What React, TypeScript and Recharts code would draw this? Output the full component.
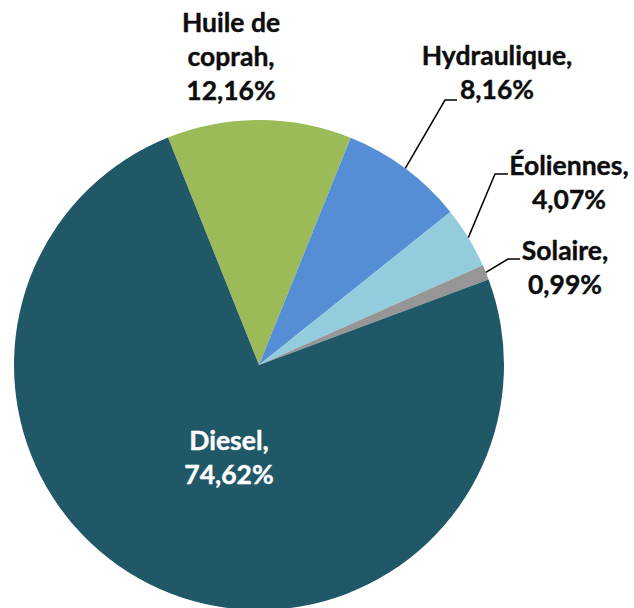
import { PieChart, Pie, Cell } from 'recharts'

const categories = ['Huile de coprah', 'Hydraulique', 'Éoliennes', 'Solaire', 'Diesel']
const shares = [12.16, 8.16, 4.07, 0.99, 74.62]
const colors = ['#9BBB59', '#558ED5', '#93CDDD', '#969696', '#215868']

// label text lines per slice (the name is split where the original wraps it)
const labelLines = [
  ['Huile de', 'coprah,'],
  ['Hydraulique,'],
  ['Éoliennes,'],
  ['Solaire,'],
  ['Diesel,'],
]

// label placement relative to pie centre: text centre x, first baseline y, optional elbow of leader line
const labelLayout = [
  { tx: -28, ty: -333, elbow: null },
  { tx: 238, ty: -300, elbow: [186, -265, 12] },
  { tx: 310, ty: -190, elbow: [236, -191, 13] },
  { tx: 306, ty: -105, elbow: [249, -106, 12] },
  { tx: -30, ty: 85, elbow: null },
]

const data = categories.map((name, i) => ({ name, value: shares[i] }))

const fmt = (v: number) => v.toFixed(2).replace('.', ',') + '%'

const RADIAN = Math.PI / 180
const LINE_H = 34

function renderLabel(props: any) {
  const { cx, cy, midAngle, outerRadius, index, value } = props
  const layout = labelLayout[index]
  const lines = [...labelLines[index], fmt(value)]
  const inside = index === 4
  const fill = inside ? '#ffffff' : '#0d0d0d'
  let leader = null
  if (layout.elbow) {
    const sx = cx + outerRadius * Math.cos(-midAngle * RADIAN)
    const sy = cy + outerRadius * Math.sin(-midAngle * RADIAN)
    const ex = cx + layout.elbow[0]
    const ey = cy + layout.elbow[1]
    leader = (
      <polyline
        points={`${sx},${sy} ${ex},${ey} ${ex + layout.elbow[2]},${ey}`}
        fill="none"
        stroke="#000"
        strokeWidth={1.5}
      />
    )
  }
  return (
    <g key={`lbl-${index}`}>
      {leader}
      <text
        x={cx + layout.tx}
        y={cy + layout.ty}
        textAnchor="middle"
        fill={fill}
        stroke={fill}
        strokeWidth={0.4}
        style={{ fontFamily: 'Lato, "Open Sans", sans-serif', fontWeight: 700, fontSize: 26.5 }}
      >
        {lines.map((l, i) => (
          <tspan key={i} x={cx + layout.tx} dy={i === 0 ? 0 : LINE_H}>
            {l}
          </tspan>
        ))}
      </text>
    </g>
  )
}

export default function App() {
  return (
    <div style={{ position: 'absolute', left: 0, top: 0, width: 634, height: 608, background: '#fff' }}>
      <PieChart width={634} height={608} margin={{ top: 0, right: 0, bottom: 0, left: 0 }}>
        <Pie
          data={data}
          dataKey="value"
          nameKey="name"
          cx={259}
          cy={365}
          outerRadius={245}
          startAngle={111.8}
          endAngle={-248.2}
          stroke="none"
          label={renderLabel}
          labelLine={false}
          isAnimationActive={false}
        >
          {data.map((d, i) => (
            <Cell key={d.name} fill={colors[i]} />
          ))}
        </Pie>
      </PieChart>
    </div>
  )
}
